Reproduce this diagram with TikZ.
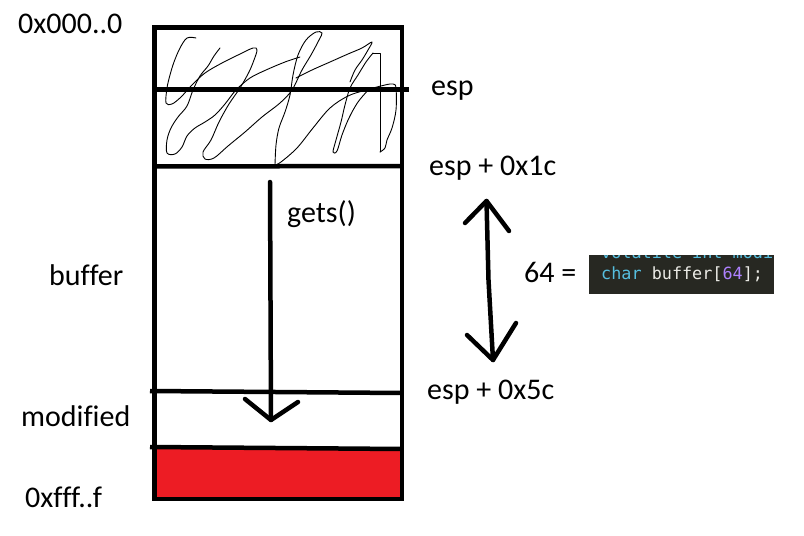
\documentclass[tikz,border=0pt]{standalone}
\usepackage{fontspec}
\setmainfont{Carlito}[Ligatures=CommonOff]
\newfontfamily\codefont{DejaVu Sans Mono}
\definecolor{paintred}{RGB}{237,28,36}
\definecolor{codebg}{RGB}{39,40,34}
\definecolor{kwblue}{RGB}{86,190,222}
\definecolor{numpurple}{RGB}{174,129,255}
\definecolor{codefg}{RGB}{235,235,230}
\begin{document}
\begin{tikzpicture}[x=1pt,y=-1pt,
  lbl/.style={anchor=base west,inner sep=0pt,font=\fontsize{30}{35}\selectfont},
  wall/.style={line width=4.5pt},
  pen/.style={line width=4.5pt,line cap=round,line join=round},
  scrib/.style={line width=0.9pt,line cap=round,line join=round},
  codetxt/.style={anchor=base west,inner sep=0pt,font=\codefont\fontsize{16.8}{20}\selectfont}]
\useasboundingbox (0,0) rectangle (804,536);

% red region
\fill[paintred] (155,449) rectangle (401,497);

% stack frame
\draw[wall,line join=miter] (154.5,27.5) rectangle (402,499);
\coordinate (espL) at (154,89.5);  \coordinate (espR) at (409,89.5);
\coordinate (c1L) at (154,166.5);  \coordinate (c1R) at (402,166);
\coordinate (c5L) at (150,391);    \coordinate (c5R) at (402,393);
\coordinate (mL) at (150,447);     \coordinate (mR) at (402,449);
\draw[wall] (espL) -- (espR);
\draw[wall] (c1L) -- (c1R);
\draw[wall] (c5L) -- (c5R);
\draw[wall] (mL) -- (mR);

% scribble
\draw[scrib] plot[smooth,tension=0.55] coordinates {
 (196,38) (187,38) (180,48) (174,62) (170,75) (167,88) (166,103) (172,104)
 (181,97) (192,85) (205,73) (222,63) (238,55) (253,48) (257,50) (254,60)
 (249,72) (240,88) (229,104) (219,122) (211,140) (203,152) (205,159) (214,158)
 (228,146) (245,132) (262,117) (280,103) (292,90) (302,70) (311,55) (319,40)
 (322,33) (316,32) (306,40) (298,55) (293,75) (290,95) (285,112) (279,128)
 (276,145) (275,165)};
\draw[scrib] plot[smooth,tension=0.55] coordinates {
 (275,165) (281,162) (297,148) (313,128) (330,108) (348,96) (366,90) (385,85)
 (393,84) (396,88) (396,110) (392,128) (387,140) (385,148) (380,152)};
\draw[scrib] (380,152) -- (380,53) -- (373,53);
\draw[scrib] plot[smooth,tension=0.55] coordinates {
 (373,53) (366,62) (358,75) (350,88) (345,105) (341,122) (336,140) (333,152)
 (337,151) (342,135) (349,118) (358,102) (370,88)};
\draw[scrib] plot[smooth,tension=0.55] coordinates {
 (220,48) (214,56) (208,66) (200,76) (193,90) (187,106) (178,117) (171,128)
 (167,140) (167,153) (175,154) (182,147) (187,136) (195,128) (205,122) (215,115)
 (225,104) (236,90) (250,78) (266,70) (285,62) (300,57)};
\draw[scrib] plot[smooth,tension=0.55] coordinates {
 (296,78) (312,70) (330,62) (348,54) (362,48) (372,42) (368,50) (362,60)
 (355,70) (350,82)};

% gets() arrow
\coordinate (gTop) at (270,182);
\coordinate (gTip) at (271,420);
\coordinate (gL) at (245,399);
\coordinate (gR) at (298,402);
\draw[pen] (gTop) -- (gTip);
\draw[pen] (gL) -- (gTip) -- (gR);

% size double arrow
\coordinate (dTop) at (486.5,201);
\coordinate (dMid) at (488.5,280);
\coordinate (dBot) at (493,360);
\draw[pen] (dTop) -- (dMid) -- (dBot);
\draw[pen] (465,223) -- (dTop) -- (509,231);
\draw[pen] (467,335) -- (dBot) -- (516,323);

% labels
\node[lbl] (top)  at (18,33)  {0x000..0};
\node[lbl] (esp)  at (431,95) {esp};
\node[lbl] (e1c)  at (429,175) {esp + 0x1c};
\node[lbl] (gets) at (287,222) {gets()};
\node[lbl] (buf)  at (49,285) {buffer};
\node[lbl] (n64)  at (524,282) {64 =};
\node[lbl] (e5c)  at (427,399) {esp + 0x5c};
\node[lbl] (mod)  at (21,426) {modified};
\node[lbl] (bot)  at (25,507) {0xfff..f};

% code snippet
\fill[codebg] (589,255) rectangle (774,294);
\begin{scope}
\clip (589,255) rectangle (774,294);
\node[codetxt,text=kwblue] (code0) at (601,258.5) {volatile int modi};
\node[codetxt] (code1) at (601,279) {\textcolor{kwblue}{char} \textcolor{codefg}{buffer[}\textcolor{numpurple}{64}\textcolor{codefg}{];}};
\end{scope}
\end{tikzpicture}
\end{document}
